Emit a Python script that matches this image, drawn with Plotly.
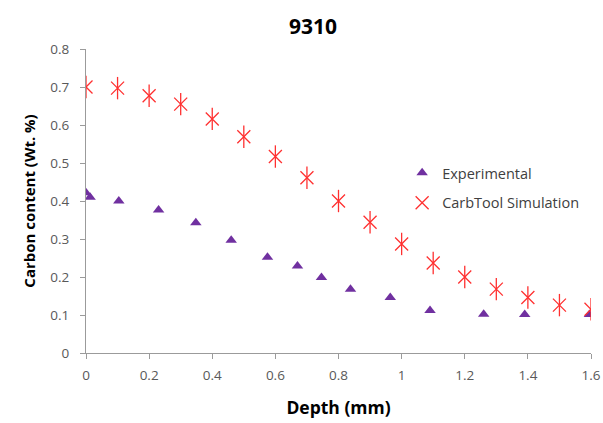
import plotly.graph_objects as go

exp_depth = [0.0, 0.013, 0.104, 0.23, 0.348, 0.46, 0.575, 0.67, 0.746, 0.838, 0.964, 1.09, 1.26, 1.39, 1.595]
exp_carbon = [0.422, 0.41, 0.40, 0.376, 0.343, 0.297, 0.252, 0.229, 0.199, 0.168, 0.146, 0.112, 0.102, 0.101, 0.101]

sim_depth = [0.0, 0.1, 0.2, 0.3, 0.4, 0.5, 0.6, 0.7, 0.8, 0.9, 1.0, 1.1, 1.2, 1.3, 1.4, 1.5, 1.6]
sim_carbon = [0.70, 0.697, 0.677, 0.655, 0.616, 0.569, 0.517, 0.461, 0.40, 0.344, 0.287, 0.237, 0.20, 0.168, 0.146, 0.126, 0.115]

x_ticks = [0, 0.2, 0.4, 0.6, 0.8, 1, 1.2, 1.4, 1.6]
y_ticks = [0, 0.1, 0.2, 0.3, 0.4, 0.5, 0.6, 0.7, 0.8]

RED = "#FF3030"
PURPLE = "#7030A0"
FONT = "Open Sans, Liberation Sans, sans-serif"

fig = go.Figure()
fig.add_trace(go.Scatter(
    x=exp_depth, y=exp_carbon, mode="markers", name="Experimental",
    legendgroup="exp",
    marker=dict(symbol="triangle-up", size=10, color=PURPLE, line=dict(width=0)),
))
fig.add_trace(go.Scatter(
    x=sim_depth, y=sim_carbon, mode="markers", name="CarbTool Simulation",
    legendgroup="sim",
    marker=dict(symbol="x-thin-open", size=13, color=RED, line=dict(width=1.3, color=RED)),
))
fig.add_trace(go.Scatter(
    x=sim_depth, y=sim_carbon, mode="markers", name="CarbTool Simulation",
    legendgroup="sim", showlegend=False,
    marker=dict(symbol="line-ns-open", size=16, color=RED, line=dict(width=1.3, color=RED)),
))

fig.update_layout(
    width=603, height=423,
    paper_bgcolor="white", plot_bgcolor="white",
    margin=dict(l=86, r=12, t=49, b=70),
    title=dict(text="<b>9310</b>", x=0.519, xanchor="center", y=0.938, yanchor="middle",
               font=dict(family=FONT, size=21, color="black")),
    font=dict(family=FONT, size=13, color="#595959"),
    legend=dict(x=0.626, y=0.645, xanchor="left", yanchor="top",
                font=dict(family=FONT, size=14.5, color="#404040"),
                bgcolor="rgba(0,0,0,0)", traceorder="grouped", tracegroupgap=8),
    showlegend=True,
)
fig.update_xaxes(
    range=[0, 1.6], tickvals=x_ticks, ticktext=[f"{v:g}" for v in x_ticks],
    showline=True, linecolor="#9B9B9B", linewidth=1.3, ticks="outside", tickcolor="#9B9B9B",
    ticklen=5, showgrid=False, zeroline=False, automargin=False, ticklabelstandoff=5,
    ticklabeloverflow="allow",
    tickfont=dict(family=FONT, size=13.5, color="#595959"),
    title=dict(text="<b>Depth (mm)</b>", standoff=18,
               font=dict(family=FONT, size=17.5, color="black")),
)
fig.update_yaxes(
    range=[0, 0.8], tickvals=y_ticks, ticktext=[f"{v:g}" for v in y_ticks],
    showline=True, linecolor="#9B9B9B", linewidth=1.3, ticks="outside", tickcolor="#9B9B9B",
    ticklen=5, showgrid=False, zeroline=False, automargin=False, ticklabelstandoff=8,
    ticklabeloverflow="allow",
    tickfont=dict(family=FONT, size=13.5, color="#595959"),
    title=dict(text="<b>Carbon content (Wt. %)</b>", standoff=10,
               font=dict(family=FONT, size=15, color="black")),
)

fig.write_html(
    "out.html",
    config={"displayModeBar": False},
    post_script="document.body.style.margin='0';document.body.style.overflow='hidden';",
)
